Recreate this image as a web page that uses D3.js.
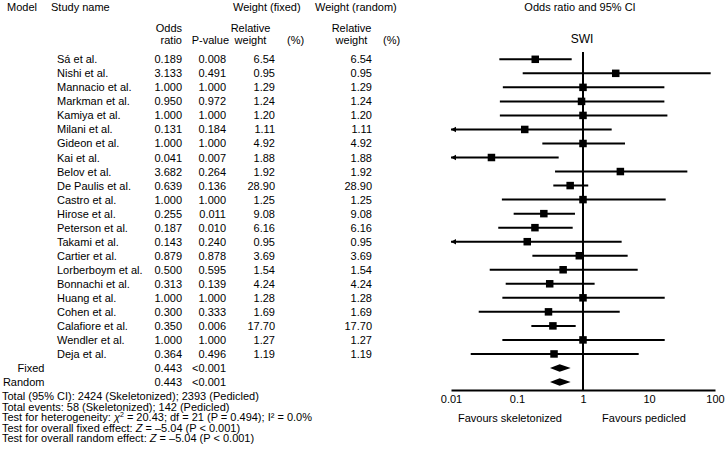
<!DOCTYPE html>
<html>
<head>
<meta charset="utf-8">
<script src="https://cdn.jsdelivr.net/npm/d3@7"></script>
<style>
html,body{margin:0;padding:0;background:#fff;}
svg{display:block;font-family:"Liberation Sans",Arial,sans-serif;}
</style>
</head>
<body>
<svg id="chart" width="725" height="458"></svg>
<script>
// ---- data ----
const studies = ["Sá et al.","Nishi et al.","Mannacio et al.","Markman et al.","Kamiya et al.","Milani et al.","Gideon et al.","Kai et al.","Belov et al.","De Paulis et al.","Castro et al.","Hirose et al.","Peterson et al.","Takami et al.","Cartier et al.","Lorberboym et al.","Bonnachi et al.","Huang et al.","Cohen et al.","Calafiore et al.","Wendler et al.","Deja et al."];
const oddsRatio = [0.189,3.133,1.000,0.950,1.000,0.131,1.000,0.041,3.682,0.639,1.000,0.255,0.187,0.143,0.879,0.500,0.313,1.000,0.300,0.350,1.000,0.364];
const pValue = ["0.008","0.491","1.000","0.972","1.000","0.184","1.000","0.007","0.264","0.136","1.000","0.011","0.010","0.240","0.878","0.595","0.139","1.000","0.333","0.006","1.000","0.496"];
const weightFixed = ["6.54","0.95","1.29","1.24","1.20","1.11","4.92","1.88","1.92","28.90","1.25","9.08","6.16","0.95","3.69","1.54","4.24","1.28","1.69","17.70","1.27","1.19"];
const weightRandom = ["6.54","0.95","1.29","1.24","1.20","1.11","4.92","1.88","1.92","28.90","1.25","9.08","6.16","0.95","3.69","1.54","4.24","1.28","1.69","17.70","1.27","1.19"];
const ciLower = [0.054,0.122,0.061,0.055,0.055,0.006,0.242,0.004,0.377,0.355,0.059,0.089,0.052,0.005,0.171,0.0386,0.0674,0.060,0.0263,0.165,0.060,0.0199];
const ciUpper = [0.674,86.0,17.1,17.1,19.0,2.72,4.33,0.428,38.1,1.20,17.9,0.756,0.698,3.85,4.75,6.74,1.50,17.3,3.60,0.775,17.3,6.98];
const summaryModels = ["Fixed","Random"];
const summaryOR = [0.443,0.443];
const summaryP = ["<0.001","<0.001"];
const summaryLower = [0.316,0.316];
const summaryUpper = [0.651,0.651];
const axisTicks = [0.01,0.1,1,10,100];
const axisTickLabels = ["0.01","0.1","1","10","100"];

// ---- layout ----
const svg = d3.select("#chart");
const FS = 11;
const x = d3.scaleLog().domain([0.01,100]).range([451,715]);
const y = d3.scaleLinear().domain([0,23]).range([59.3,382]);
const axisY = 390;

function txt(t, xx, yy, anchor, opts){
  const e = svg.append("text").attr("x",xx).attr("y",yy)
    .attr("font-size",FS).attr("fill","#000")
    .attr("text-anchor",anchor||"start").text(t);
  return e;
}

// headers
txt("Model",7,10.5);
txt("Study name",51,10.5);
txt("Weight (fixed)",233,10.5);
txt("Weight (random)",315,10.5);
txt("Odds",182,32,"end");
txt("ratio",182,44,"end");
txt("P-value",229,44,"end");
txt("Relative",250.5,32,"middle");
txt("weight",250.5,44,"middle");
txt("(%)",287,44);
txt("Relative",351.5,32,"middle");
txt("weight",351.5,44,"middle");
txt("(%)",383,44);
txt("Odds ratio and 95% CI",580,10.5,"middle");
txt("SWI",582,43,"middle").attr("font-size",12);

// study rows
studies.forEach((s,i)=>{
  const yy = y(i)+4;
  txt(s,57,yy);
  txt(oddsRatio[i].toFixed(3),182,yy,"end");
  txt(pValue[i],226,yy,"end");
  txt(weightFixed[i],275,yy,"end");
  txt(weightRandom[i],372,yy,"end");
});
summaryModels.forEach((m,j)=>{
  const i = studies.length + j;
  const yy = y(i)+4;
  txt(m,44.5,yy,"end");
  txt(summaryOR[j].toFixed(3),182,yy,"end");
  txt(summaryP[j],226,yy,"end");
});

// vertical line at 1
svg.append("line").attr("x1",x(1)).attr("x2",x(1)).attr("y1",52).attr("y2",axisY)
  .attr("stroke","#000").attr("stroke-width",2);

// CIs
const [dMin,dMax] = x.domain();
const g = svg.append("g");
studies.forEach((s,i)=>{
  const yy = y(i);
  const lo = Math.max(ciLower[i],dMin), hi = Math.min(ciUpper[i],dMax);
  g.append("line").attr("x1",x(lo)).attr("x2",x(hi)).attr("y1",yy).attr("y2",yy)
    .attr("stroke","#000").attr("stroke-width",2);
  if (ciLower[i] < dMin){
    const tx = x(dMin);
    g.append("path").attr("d",`M${tx},${yy} L${tx+5},${yy-2.8} L${tx+5},${yy+2.8} Z`).attr("fill","#000");
  }
  const sq = 7.5;
  g.append("rect").attr("x",x(oddsRatio[i])-sq/2).attr("y",yy-sq/2)
    .attr("width",sq).attr("height",sq).attr("fill","#000");
});
summaryModels.forEach((m,j)=>{
  const yy = y(studies.length+j);
  const h = 3.8;
  g.append("path").attr("d",
    `M${x(summaryLower[j])},${yy} L${x(summaryOR[j])},${yy-h} L${x(summaryUpper[j])},${yy} L${x(summaryOR[j])},${yy+h} Z`)
    .attr("fill","#000");
});

// axis
const axis = d3.axisBottom(x).tickValues(axisTicks)
  .tickFormat((d,i)=>axisTickLabels[i]).tickSize(0).tickPadding(5);
const ag = svg.append("g").attr("transform",`translate(0,${axisY})`).call(axis);
ag.select(".domain").attr("stroke","#000").attr("stroke-width",2);
ag.selectAll("text").attr("font-size",FS).attr("fill","#000")
  .attr("font-family","Liberation Sans, Arial, sans-serif");

txt("Favours skeletonized",510,421.5,"middle");
txt("Favours pedicled",644,421.5,"middle");

// footer
const fy = [400,410.6,421.2,431.8,442.4];
txt("Total (95% CI): 2424 (Skeletonized); 2393 (Pedicled)",2,fy[0]);
txt("Total events: 58 (Skeletonized); 142 (Pedicled)",2,fy[1]);
const h = txt("",2,fy[2]);
h.append("tspan").text("Test for heterogeneity: ");
h.append("tspan").attr("font-style","italic").text("χ");
h.append("tspan").attr("font-size",7).attr("dy",-4).text("2");
h.append("tspan").attr("dy",4).text(" = 20.43; df = 21 (P = 0.494); I² = 0.0%");
const f1 = txt("",2,fy[3]);
f1.append("tspan").text("Test for overall fixed effect: ");
f1.append("tspan").attr("font-style","italic").text("Z");
f1.append("tspan").text(" = –5.04 (P < 0.001)");
const f2 = txt("",2,fy[4]);
f2.append("tspan").text("Test for overall random effect: ");
f2.append("tspan").attr("font-style","italic").text("Z");
f2.append("tspan").text(" = –5.04 (P < 0.001)");
</script>
</body>
</html>
